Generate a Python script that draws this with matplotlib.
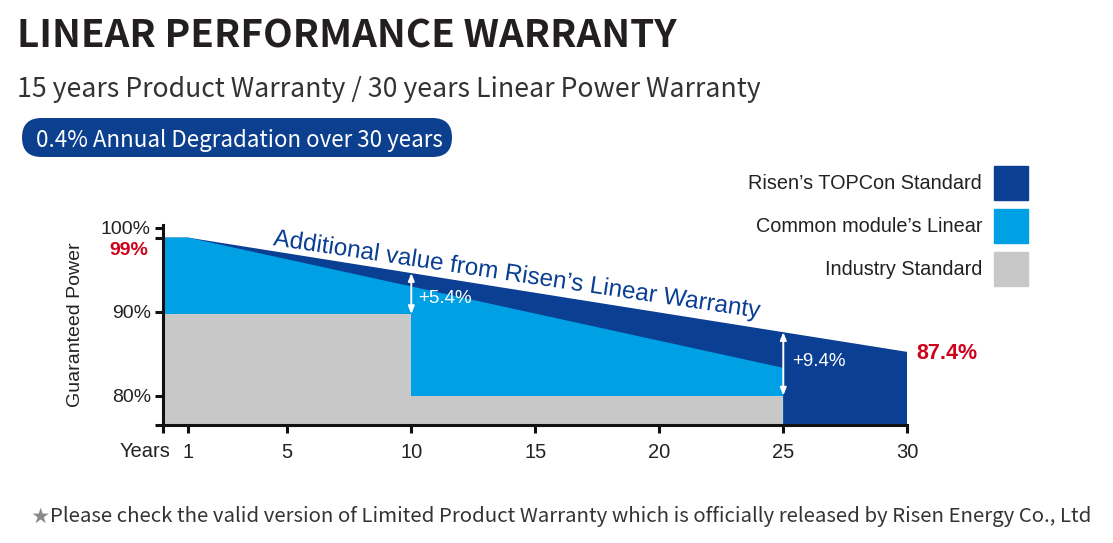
import matplotlib.pyplot as plt
from matplotlib.patches import Patch, FancyBboxPatch
from matplotlib.transforms import IdentityTransform
import matplotlib.patheffects as pe

# values (% of nameplate power)
risen_years = [0, 1, 30]
risen_power = [98.8, 98.8, 85.2]
common_years = [0, 1, 25]
common_power = [98.8, 98.8, 83.3]
industry_years = [0, 10, 10, 25]
industry_power = [89.7, 89.7, 80, 80]

year_ticks = [0, 1, 5, 10, 15, 20, 25, 30]
year_labels = ['', '1', '5', '10', '15', '20', '25', '30']
power_ticks = [80, 90, 100]
power_labels = ['80%', '90%', '100%']

legend_labels = ['Risen\u2019s TOPCon Standard', 'Common module\u2019s Linear', 'Industry Standard']

dark_blue = '#0b3f93'
light_blue = '#00a0e4'
grey = '#c8c8c8'
red = '#d0021b'
ink = '#222222'

chart_font = 'Liberation Sans'
head_font = ['Noto Sans CJK SC', 'DejaVu Sans']

W, H = 1113, 543
fig = plt.figure(figsize=(W / 100, H / 100), dpi=100)


def fy(py):
    return 1 - py / H


def fx(px):
    return px / W


ybot = 76.5
ax = fig.add_axes([fx(163.3), fy(425), fx(907.3) - fx(163.3), fy(225) - fy(425)])
ax.set_xlim(0, 30)
ax.set_ylim(ybot, 100.3)

ax.fill_between(risen_years, risen_power, 0, color=dark_blue, lw=0, zorder=1)
ax.fill_between(common_years, common_power, 0, color=light_blue, lw=0, zorder=2)
ax.fill_between(industry_years, industry_power, 0, color=grey, lw=0, zorder=3)

for s in ['top', 'right']:
    ax.spines[s].set_visible(False)
for s in ['left', 'bottom']:
    ax.spines[s].set_linewidth(2.2)
    ax.spines[s].set_color('#111111')
    ax.spines[s].set_zorder(5)

ax.set_xticks(year_ticks)
ax.set_xticklabels(year_labels, fontsize=14.5, family=chart_font, color=ink)
ax.set_yticks(power_ticks)
ax.set_yticklabels(power_labels, fontsize=14, family=chart_font, color=ink)
ax.set_yticks([ybot, risen_power[0]], minor=True)
ax.tick_params(axis='both', which='both', length=6, width=2.2, color='#111111')
ax.tick_params(axis='x', pad=7)
ax.tick_params(axis='y', pad=3)

ax.set_ylabel('Guaranteed Power', fontsize=14, family=chart_font, color=ink, labelpad=12)

# value labels
ax.text(-0.6, 97.3, '99%', color=red, fontsize=14, fontweight='bold', family=chart_font,
        ha='right', va='center', clip_on=False)
ax.text(30.35, 84.95, '87.4%', color=red, fontsize=15.5, fontweight='bold', family=chart_font,
        ha='left', va='center', clip_on=False)

# gap arrows
r10 = risen_power[1] + (risen_power[2] - risen_power[1]) * (10 - 1) / (30 - 1)
r25 = risen_power[1] + (risen_power[2] - risen_power[1]) * (25 - 1) / (30 - 1)
arrow = dict(arrowstyle='<|-|>,head_length=0.45,head_width=0.18', color='white', lw=1.4,
             shrinkA=0, shrinkB=0)
ax.annotate('', xy=(10, r10), xytext=(10, industry_power[1]), arrowprops=arrow, zorder=6)
ax.annotate('', xy=(25, r25), xytext=(25, industry_power[3]), arrowprops=arrow, zorder=6)
ax.text(10.27, 91.6, '+5.4%', color='white', fontsize=13.5, family=chart_font, ha='left', va='center', zorder=6)
ax.text(25.34, 84.04, '+9.4%', color='white', fontsize=13.5, family=chart_font, ha='left', va='center', zorder=6)

ax.text(14.18, 93.6, 'Additional value from Risen\u2019s Linear Warranty', color=dark_blue,
        fontsize=17.5, family=chart_font, rotation=-8.5, rotation_mode='anchor',
        ha='center', va='baseline', zorder=7,
        path_effects=[pe.withStroke(linewidth=3, foreground='white')])

fig.text(fx(170), fy(456.7), 'Years', fontsize=14.5, family=chart_font, color=ink, ha='right', va='baseline')

# legend, labels on the left of the swatches
handles = [Patch(color=c) for c in [dark_blue, light_blue, grey]]
fig.legend(handles, legend_labels, loc='upper right', bbox_to_anchor=(fx(1028), fy(166)),
           frameon=False, markerfirst=False, prop={'family': chart_font, 'size': 14.3},
           handlelength=1.71, handleheight=2.27, labelspacing=0.45, handletextpad=0.6,
           borderpad=0, borderaxespad=0, labelcolor=ink)

# header
fig.text(fx(17), fy(47), 'LINEAR PERFORMANCE WARRANTY', fontsize=27.8, fontweight='bold',
         family=head_font, color='#231f20', ha='left', va='baseline')
fig.text(fx(17), fy(97), '15 years Product Warranty / 30 years Linear Power Warranty', fontsize=19.2,
         family=head_font, color='#333333', ha='left', va='baseline')

pill = FancyBboxPatch((22, H - 157), 430, 39, boxstyle='round,pad=0,rounding_size=19.5',
                      transform=IdentityTransform(), facecolor='#0d3f8f', edgecolor='none')
fig.add_artist(pill)
fig.text(fx(36), fy(147), '0.4% Annual Degradation over 30 years', fontsize=16.1,
         family=head_font, color='white', ha='left', va='baseline')

# footnote
fig.text(fx(31), fy(521.7), '\u2605', fontsize=12.5, family=head_font, color='#8a8a8a', ha='left', va='baseline')
fig.text(fx(50), fy(521.7), 'Please check the valid version of Limited Product Warranty which is officially '
         'released by Risen Energy Co., Ltd', fontsize=14.7, family=head_font, color='#333333',
         ha='left', va='baseline')

fig.savefig('out.png', dpi=100)
